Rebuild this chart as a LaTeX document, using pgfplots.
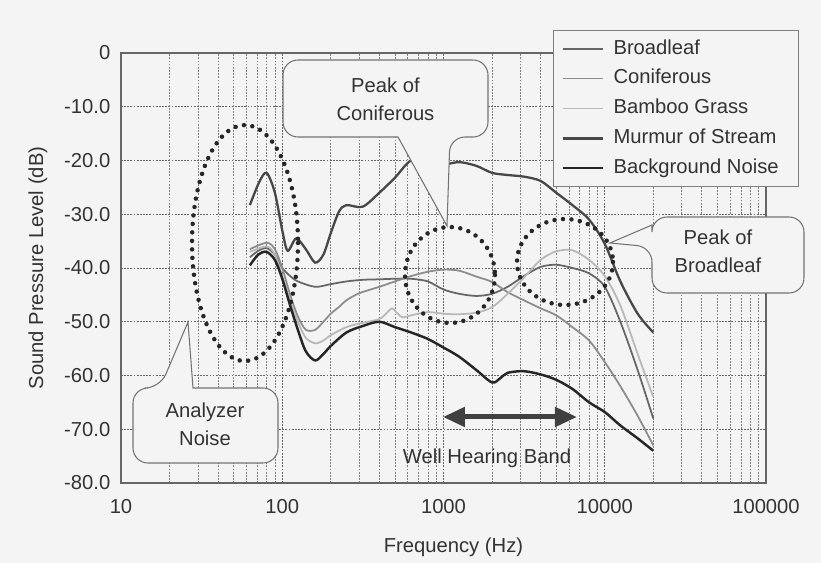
\documentclass[border=0pt]{standalone}
\usepackage{fontspec}
\setmainfont{Liberation Sans}
\usepackage{pgfplots}
\pgfplotsset{compat=1.18}
\usetikzlibrary{arrows.meta}
\newcommand\ff{\fontsize{11.5}{16}\selectfont}
\definecolor{bg}{gray}{0.955}
\begin{document}
\begin{tikzpicture}
\fill[bg] (-24.2mm,10.6mm) rectangle (140mm,-102mm);
\begin{axis}[
 at={(0,0)}, anchor=north west,
 width=129mm, height=86mm, scale only axis,
 xmode=log, xmin=10, xmax=100000, ymin=-80, ymax=0,
 xtick={10,100,1000,10000,100000},
 xticklabels={10,100,1000,10000,100000},
 ytick={-80,-70,-60,-50,-40,-30,-20,-10,0},
 yticklabels={-80.0,-70.0,-60.0,-50.0,-40.0,-30.0,-20.0,-10.0,0},
 minor y tick num=0,
 grid=both,
 major grid style={black!60, line width=0.45pt, dash pattern=on 1pt off 0.8pt},
 minor grid style={black!50, line width=0.4pt, dash pattern=on 1pt off 0.8pt},
 tick style={draw=none},
 axis line style={black!60, line width=0.6pt},
 tick label style={font=\ff, text=black!80},
 xticklabel style={yshift=-2mm},
 yticklabel style={xshift=-0.9mm},
 xlabel={Frequency (Hz)},
 ylabel={Sound Pressure Level (dB)},
 label style={font=\ff, text=black!80},
 xlabel style={at={([xshift=2mm,yshift=-12.8mm]rel axis cs:0.5,0)}, anchor=center},
 ylabel style={at={([xshift=-16.6mm]rel axis cs:0,0.5)}, anchor=center},
 legend style={at={([xshift=86.4mm,yshift=4.6mm]rel axis cs:0,1)}, anchor=north west,
   draw=black!50, line width=0.5pt, fill=bg, font=\ff, text=black!80,
   inner xsep=1.6mm, inner ysep=1.2mm, row sep=3pt,
   nodes={inner sep=1.5pt, text height=8.5pt, text depth=2.5pt}},
 legend cell align=left,
 legend image code/.code={\draw[#1] (0mm,0mm) -- (8mm,0mm); \path (9.4mm,0mm);},
]
% Broadleaf
\addplot[color=black!60, line width=1pt, smooth] table {
x y
63 -38
71 -36.8
80 -36.3
90 -37.5
100 -40
112 -41.5
125 -42.5
160 -43.5
200 -43
250 -42.5
315 -42.2
400 -42.1
500 -42
630 -42
800 -42.5
1000 -44
1250 -44.8
1600 -45.2
2000 -44.8
2500 -43.5
3150 -41.5
4000 -39.8
5000 -39.4
6300 -40
8000 -41
10000 -43.5
12500 -50
16000 -59
20000 -68
};
\addlegendentry{Broadleaf}
% Coniferous
\addplot[color=black!45, line width=1pt, smooth] table {
x y
63 -36.5
80 -35.3
90 -36.5
100 -40
112 -45
125 -49
140 -51.5
160 -51.5
180 -50
200 -48.5
230 -47
250 -46
300 -44.7
400 -43.5
500 -42.5
630 -41.5
800 -40.7
1000 -40.3
1250 -40.5
1600 -41.6
2000 -42.6
2500 -44.5
3150 -46
4000 -47.5
5000 -48.8
6300 -51
8000 -53.5
10000 -57.5
12500 -62
16000 -67.5
20000 -73
};
\addlegendentry{Coniferous}
% Bamboo Grass
\addplot[color=black!28, line width=1pt, smooth] table {
x y
63 -37
80 -36
90 -37.5
100 -41.5
112 -46
125 -50
140 -53
160 -54
180 -53.5
200 -52.5
250 -51
315 -50.2
400 -49.5
450 -48.2
480 -47.5
520 -48.5
560 -49.2
630 -48.8
800 -48.2
1000 -48.5
1250 -48.6
1600 -48.3
2000 -47.3
2500 -44.8
3150 -41.8
4000 -38.5
5000 -36.9
6300 -36.7
8000 -38.5
10000 -41.5
12500 -47
16000 -56
20000 -64
};
\addlegendentry{Bamboo Grass}
% Murmur of Stream
\addplot[color=black!72, line width=1.3pt, smooth] table {
x y
63 -28.3
72 -24
80 -22.3
90 -26
100 -33
108 -36.8
122 -34.5
140 -36.5
160 -39
180 -37.5
200 -33.5
225 -29.5
250 -28.3
315 -28.6
400 -26
500 -23.2
630 -20
800 -20.8
1000 -20.8
1250 -20.3
1600 -21
2000 -22.3
2500 -22.7
3150 -23
4000 -23.8
5000 -26
6300 -28.3
8000 -31
10000 -35.5
12500 -42.5
16000 -48.5
20000 -52
};
\addlegendentry{Murmur of Stream}
% Background Noise
\addplot[color=black!85, line width=1.4pt, smooth] table {
x y
63 -39.5
71 -37.5
80 -37
90 -38.5
100 -42
112 -47
125 -51.5
140 -55.5
160 -57.2
180 -56
200 -54.5
250 -52
315 -50.8
400 -50
500 -51
630 -52
800 -53.2
1000 -54.8
1250 -56.5
1600 -59
2000 -61.3
2250 -60.5
2500 -59.5
3150 -59.2
4000 -59.8
5000 -60.8
6300 -62.5
8000 -65
10000 -66.8
12500 -69.3
16000 -71.7
20000 -74
};
\addlegendentry{Background Noise\hspace*{1.8mm}}
\end{axis}
\begin{scope}[x=0.2mm, y=-0.2mm, shift={(-121,-53)}]
 % dotted ellipses
 \tikzset{dots/.style={black!85, line width=0.9mm, line cap=round, dash pattern=on 0pt off 1.7mm}}
 \draw[dots] (245,243) ellipse [x radius=53, y radius=118];
 \draw[dots] (450,275) ellipse [x radius=45, y radius=48];
 \draw[dots] (565,262) ellipse [x radius=48, y radius=43];
 % callout: Peak of Coniferous
 \filldraw[fill=bg, draw=black!55, line width=0.6pt]
   (385,137) [rounded corners=3mm] -- (283,137) -- (283,60) -- (488,60) -- (488,137) -- (450,137)
   [sharp corners] -- (447,226) -- (398,137) -- cycle;
 \node[font=\ff, align=center, text=black!80] at (385.5,99) {Peak of\\Coniferous};
 % callout: Analyzer Noise
 \filldraw[fill=bg, draw=black!55, line width=0.6pt]
   (278,425) [rounded corners=3mm] -- (278,463) -- (133,463) -- (133,388) -- (160,388)
   [sharp corners] -- (188,322) -- (193,388) [rounded corners=3mm] -- (278,388) -- cycle;
 \node[font=\ff, align=center, text=black!80] at (205,424) {Analyzer\\Noise};
 % callout: Peak of Broadleaf
 \filldraw[fill=bg, draw=black!55, line width=0.6pt]
   (728,293) [rounded corners=3mm] -- (652,293) -- (652,247)
   [sharp corners] -- (610,243) -- (652,225) [rounded corners=3mm] -- (652,217) -- (804,217) -- (804,293) -- cycle;
 \node[font=\ff, align=center, text=black!80] at (718,251) {Peak of\\Broadleaf};
 % well hearing band
 \draw[{Triangle[length=4.4mm,width=3.8mm]}-{Triangle[length=4.4mm,width=3.8mm]}, line width=1mm, black!75] (443,417) -- (577,417);
 \node[font=\ff, text=black!80] at (487,458) {Well Hearing Band};
\end{scope}
\pgfresetboundingbox
\path (-24.2mm,10.6mm) rectangle (140mm,-102mm);
\end{tikzpicture}
\end{document}
